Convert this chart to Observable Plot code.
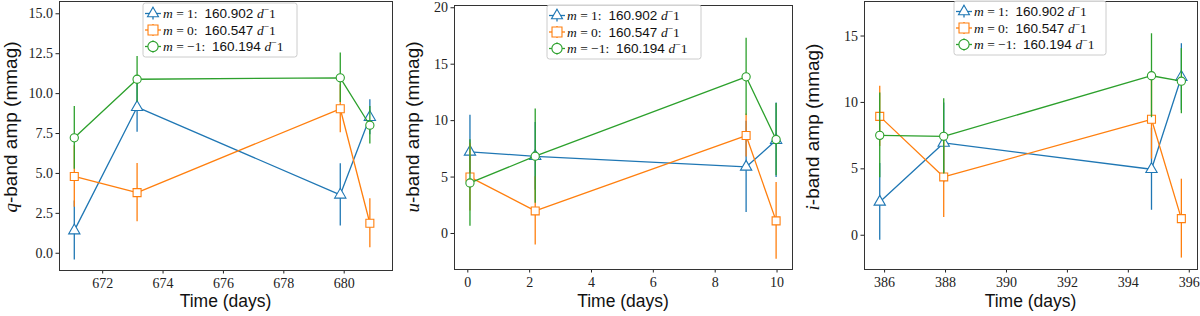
<!DOCTYPE html>
<html><head><meta charset="utf-8">
<script src="https://cdn.jsdelivr.net/npm/d3@7"></script>
<script src="https://cdn.jsdelivr.net/npm/@observablehq/plot@0.6"></script>
<style>
body{margin:0;background:#fff;}
#wrap{position:relative;width:1200px;height:316px;overflow:hidden;background:#fff;}
#wrap svg{position:absolute;top:0;overflow:visible;}
</style></head><body><div id="wrap"></div>
<script>
// ---- data ----
const seriesM = ["1", "0", "\u22121"];
const seriesFreqs = ["160.902", "160.547", "160.194"];
const seriesColors = ["#1f77b4", "#ff7f0e", "#2ca02c"];
const seriesSymbols = ["triangle", "square", "circle"];
const bandLetters = ["q", "u", "i"];

// q-band
const timeQ = [671.06, 673.14, 679.87, 680.85];
const ampQ_m1p = [1.42, 9.15, 3.66, 8.52];
const errQ_m1p = [1.85, 1.57, 1.95, 1.10];
const ampQ_m0 = [4.81, 3.80, 9.05, 1.88];
const errQ_m0 = [1.93, 1.83, 1.50, 1.54];
const ampQ_m1n = [7.23, 10.90, 10.99, 8.02];
const errQ_m1n = [1.96, 1.43, 1.55, 1.18];
const xTicksQ = [672, 674, 676, 678, 680];
const yTicksQ = [0, 2.5, 5, 7.5, 10, 12.5, 15];

// u-band
const timeU = [0.07, 2.18, 9.00, 9.97];
const ampU_m1p = [7.23, 6.84, 5.90, 8.26];
const errU_m1p = [3.24, 3.00, 4.04, 3.30];
const ampU_m0 = [5.00, 2.00, 8.68, 1.12];
const errU_m0 = [3.00, 3.03, 1.90, 3.40];
const ampU_m1n = [4.48, 6.85, 13.88, 8.32];
const errU_m1n = [3.83, 4.18, 3.42, 3.20];
const xTicksU = [0, 2, 4, 6, 8, 10];
const yTicksU = [0, 5, 10, 15, 20];

// i-band
const timeI = [385.84, 387.94, 394.76, 395.74];
const ampI_m1p = [2.51, 6.95, 4.97, 11.91];
const errI_m1p = [2.89, 3.00, 3.09, 2.51];
const ampI_m0 = [8.95, 4.39, 8.73, 1.25];
const errI_m0 = [2.26, 3.06, 3.00, 2.97];
const ampI_m1n = [7.52, 7.45, 12.01, 11.60];
const errI_m1n = [3.19, 2.83, 3.16, 2.45];
const xTicksI = [386, 388, 390, 392, 394, 396];
const yTicksI = [0, 5, 10, 15];

// ---- layout ----
const SERIF = "'Liberation Serif', 'DejaVu Serif', serif";
const SANS = "'Liberation Sans', 'DejaVu Sans', sans-serif";

const panels = [
  {band: 0, left: 0, width: 400, times: timeQ, amps: [ampQ_m1p, ampQ_m0, ampQ_m1n], errs: [errQ_m1p, errQ_m0, errQ_m1n],
   xdom: [670.57, 681.6], ydom: [-1.08, 15.77], xticks: xTicksQ, yticks: yTicksQ, yfmt: d3.format(".1f"),
   mL: 59, mR: 8, mT: 1, mB: 46, ylabX: 17, legend: {x: 143, y: 3, w: 154}},
  {band: 1, left: 400, width: 400, times: timeU, amps: [ampU_m1p, ampU_m0, ampU_m1n], errs: [errU_m1p, errU_m0, errU_m1n],
   xdom: [-0.43, 10.5], ydom: [-3.19, 20.2], xticks: xTicksU, yticks: yTicksU, yfmt: d3.format("d"),
   mL: 54, mR: 8, mT: 5, mB: 47, ylabX: 19, legend: {x: 147, y: 5, w: 154}},
  {band: 2, left: 800, width: 400, times: timeI, amps: [ampI_m1p, ampI_m0, ampI_m1n], errs: [errI_m1p, errI_m0, errI_m1n],
   xdom: [385.34, 396.27], ydom: [-2.58, 17.6], xticks: xTicksI, yticks: yTicksI, yfmt: d3.format("d"),
   mL: 64, mR: 3, mT: 1, mB: 47, ylabX: 19, legend: {x: 154, y: 1, w: 152}}
];

const symbolTypes = {triangle: d3.symbolTriangle2, square: d3.symbolSquare, circle: d3.symbolCircle};
const symbolR = {triangle: 4.2, square: 4.5, circle: 4.1};
const LW = 1.3;

function makePanel(p) {
  const marks = [];
  for (let s = 0; s < 3; s++) {
    const d = p.times.map((t, i) => ({t, a: p.amps[s][i], e: p.errs[s][i]}));
    marks.push(Plot.ruleX(d, {x: "t", y1: r => r.a - r.e, y2: r => r.a + r.e, stroke: seriesColors[s], strokeWidth: LW}));
    marks.push(Plot.line(d, {x: "t", y: "a", stroke: seriesColors[s], strokeWidth: LW}));
    marks.push(Plot.dot(d, {x: "t", y: "a", symbol: seriesSymbols[s], r: symbolR[seriesSymbols[s]], fill: "white", stroke: seriesColors[s], strokeWidth: 1.1}));
  }
  marks.push(Plot.axisX({ticks: p.xticks, tickSize: 3.5, tickPadding: 4, label: null, color: "#222", tickFormat: d3.format("d")}));
  marks.push(Plot.axisY({ticks: p.yticks, tickSize: 3.5, tickPadding: 3, label: null, color: "#222", tickFormat: p.yfmt}));
  marks.push(Plot.frame({stroke: "#333", strokeWidth: 1}));
  const svg = Plot.plot({
    width: p.width, height: 316,
    marginLeft: p.mL, marginRight: p.mR, marginTop: p.mT, marginBottom: p.mB,
    x: {domain: p.xdom}, y: {domain: p.ydom},
    style: {fontFamily: SERIF, fontSize: "14px", background: "transparent", color: "#222"},
    marks
  });
  svg.style.left = p.left + "px";
  const sel = d3.select(svg);
  const plotCx = p.mL + (p.width - p.mL - p.mR) / 2;

  // x label
  sel.append("text").attr("x", plotCx).attr("y", 307).attr("text-anchor", "middle")
    .attr("font-family", SANS).attr("font-size", 17.5).attr("fill", "#111").text("Time (days)");

  // y label
  const yl = sel.append("text").attr("transform", `translate(${p.ylabX},127) rotate(-90)`)
    .attr("text-anchor", "middle").attr("font-size", 19).attr("fill", "#111");
  yl.append("tspan").attr("font-family", SERIF).attr("font-style", "italic").text(bandLetters[p.band]);
  yl.append("tspan").attr("font-family", SANS).text("-band amp (mmag)");

  // legend
  const L = p.legend, rowsY = [10.5, 27, 43.5], H = 54;
  const g = sel.append("g");
  g.append("rect").attr("x", L.x).attr("y", L.y).attr("width", L.w).attr("height", H).attr("rx", 2.5)
    .attr("fill", "white").attr("fill-opacity", 0.8).attr("stroke", "#cccccc").attr("stroke-width", 1);
  for (let s = 0; s < 3; s++) {
    const cy = L.y + rowsY[s];
    const hx = L.x + 10;
    const rr = symbolR[seriesSymbols[s]] * 1.25;
    g.append("line").attr("x1", hx - 8).attr("x2", hx + 8).attr("y1", cy).attr("y2", cy)
      .attr("stroke", seriesColors[s]).attr("stroke-width", LW);
    g.append("line").attr("x1", hx).attr("x2", hx).attr("y1", cy - 6).attr("y2", cy + 6)
      .attr("stroke", seriesColors[s]).attr("stroke-width", LW);
    g.append("path").attr("d", d3.symbol(symbolTypes[seriesSymbols[s]], Math.PI * rr * rr)())
      .attr("transform", `translate(${hx},${cy})`).attr("fill", "white").attr("stroke", seriesColors[s]).attr("stroke-width", 1.1);
    const t = g.append("text").attr("x", L.x + 20).attr("y", cy).attr("dy", "0.35em").attr("text-anchor", "start")
      .attr("font-size", 13.5).attr("fill", "#111").style("white-space", "pre");
    t.append("tspan").attr("font-family", SERIF).attr("font-style", "italic").text("m");
    t.append("tspan").attr("font-family", SERIF).text(" = " + seriesM[s] + ":  ");
    t.append("tspan").attr("font-family", SANS).text(seriesFreqs[s] + " ");
    t.append("tspan").attr("font-family", SERIF).attr("font-style", "italic").text("d");
    t.append("tspan").attr("font-family", SERIF).attr("font-size", 9.5).attr("dy", -5).text("\u2212");
    t.append("tspan").attr("font-family", SERIF).attr("dy", 5).text("1");
  }
  document.getElementById("wrap").appendChild(svg);
}

panels.forEach(makePanel);
</script>
</body></html>
